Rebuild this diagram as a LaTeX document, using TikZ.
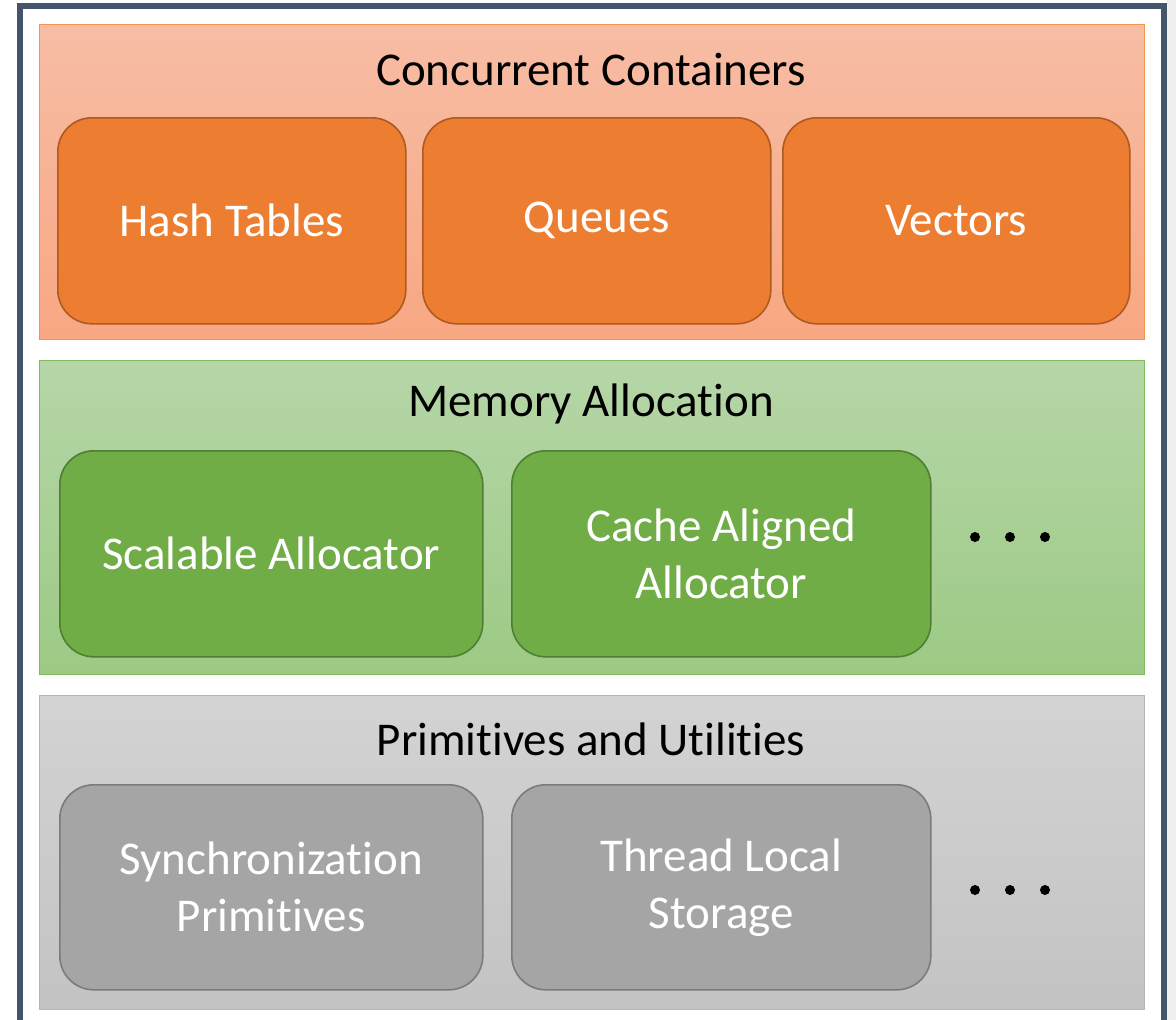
\documentclass[tikz,border=0pt]{standalone}
\usepackage{fontspec}
\setmainfont[Ligatures=NoCommon]{Carlito}
\usetikzlibrary{positioning}
\definecolor{frame}{HTML}{44546A}
\definecolor{orTop}{HTML}{F7BDA5}
\definecolor{orBot}{HTML}{F8A782}
\definecolor{orEdge}{HTML}{F4954E}
\definecolor{orFill}{HTML}{ED7D31}
\definecolor{orLine}{HTML}{AE5A21}
\definecolor{grTop}{HTML}{B6D6A8}
\definecolor{grBot}{HTML}{9CCA84}
\definecolor{grEdge}{HTML}{82BA62}
\definecolor{grFill}{HTML}{70AD47}
\definecolor{grLine}{HTML}{507E32}
\definecolor{gyTop}{HTML}{D3D3D3}
\definecolor{gyBot}{HTML}{C3C3C3}
\definecolor{gyEdge}{HTML}{B5B5B5}
\definecolor{gyFill}{HTML}{A5A5A5}
\definecolor{gyLine}{HTML}{7B7B7B}
\tikzset{
  panel/.style={draw=#1Edge, line width=1.2pt, top color=#1Top, bottom color=#1Bot, minimum width=1105pt, minimum height=315pt, inner sep=0pt, anchor=north west},
  blk/.style={draw=#1Line, line width=1.6pt, fill=#1Fill, rounded corners=34pt, inner sep=0pt, anchor=north west, text=white, font=\fontsize{47}{57}\selectfont, align=center},
  ttl/.style={font=\fontsize{47}{57}\selectfont, text=black},
  dotc/.style={fill=black, circle, inner sep=0pt, minimum size=10pt}
}
\begin{document}
\begin{tikzpicture}[x=1pt,y=-1pt]
\useasboundingbox (0,0) rectangle (1176,1020);
\fill[white] (0,0) rectangle (1176,1020);
\fill[black!6] (1167,0) rectangle (1176,1020);
\fill[frame] (17,3) rectangle (1167,1020);
\fill[white] (23,9) rectangle (1161,1020);
% panels
\node[panel=or, minimum height=315pt] (p1) at (39,24) {};
\node[panel=gr, minimum height=314pt] (p2) at (39,360) {};
\node[panel=gy, minimum height=314pt] (p3) at (39,695) {};
\node[ttl] (t1) at (591,70) {Concurrent Containers};
\node[ttl] (t2) at (591,404) {Memory Allocation};
\node[ttl] (t3) at (591,739) {Primitives and Utilities};
% orange blocks
\node[blk=or, minimum width=348pt, minimum height=206pt] (b1) at (57,117) {Hash Tables};
\node[blk=or, minimum width=348pt, minimum height=206pt] (b2) at (422,117) {Queues};
\node[blk=or, minimum width=347pt, minimum height=206pt] (b3) at (782,117) {Vectors};
% green blocks
\node[blk=gr, minimum width=423pt, minimum height=206pt] (g1) at (59,450) {Scalable Allocator};
\node[blk=gr, minimum width=419pt, minimum height=206pt] (g2) at (511,450) {Cache Aligned\\Allocator};
% gray blocks
\node[blk=gy, minimum width=423pt, minimum height=205pt] (s1) at (59,784) {Synchronization\\Primitives};
\node[blk=gy, minimum width=419pt, minimum height=205pt] (s2) at (511,784) {Thread Local\\Storage};
% ellipses
\node[dotc] (d1) at (975,537) {};
\node[dotc] (d2) at (1010,537) {};
\node[dotc] (d3) at (1045,537) {};
\node[dotc] (e1) at (975,890) {};
\node[dotc] (e2) at (1010,890) {};
\node[dotc] (e3) at (1045,890) {};
\end{tikzpicture}
\end{document}
